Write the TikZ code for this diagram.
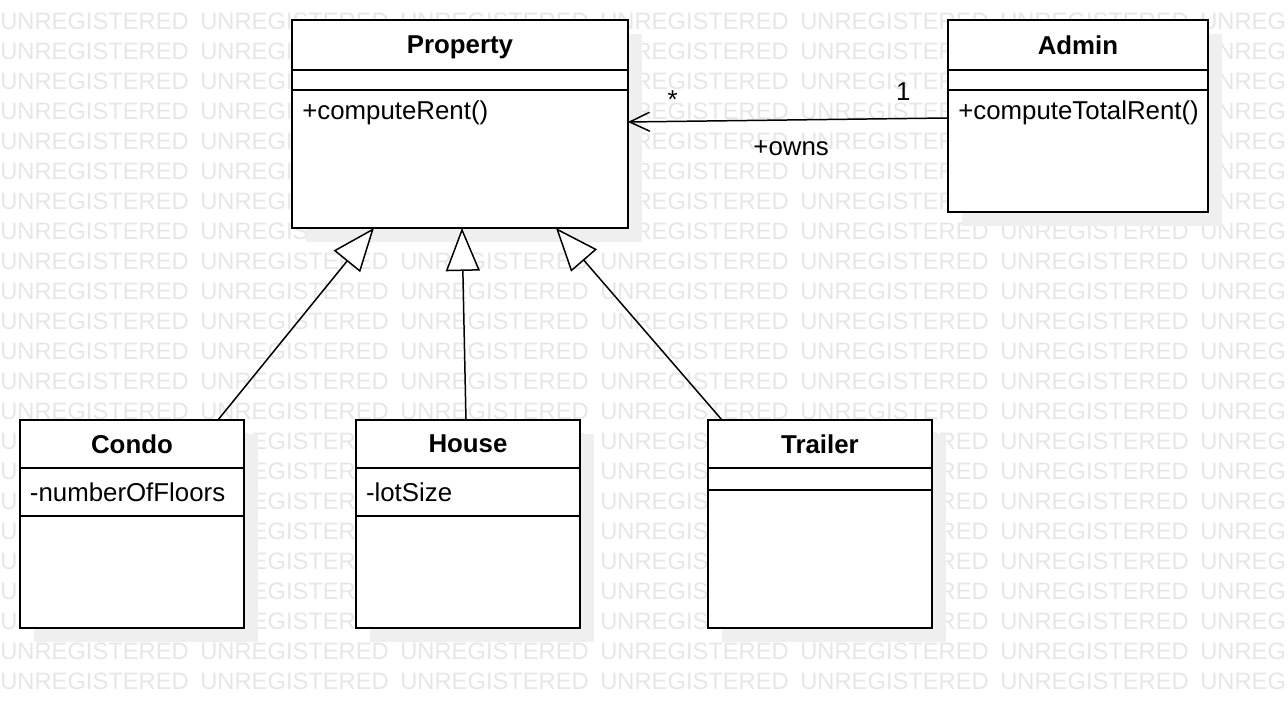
\documentclass[tikz,border=0pt]{standalone}
\usepackage{fontspec}
\setmainfont{Liberation Sans}
\usetikzlibrary{positioning,arrows.meta,shadows}
\definecolor{markgray}{HTML}{E6E6E6}
\definecolor{shadegray}{HTML}{EFEFEF}
\newcommand\classfont{\fontsize{14.7pt}{17pt}\selectfont}
\newcommand\markfont{\fontsize{13.5pt}{16pt}\selectfont}
\tikzset{
  box/.style={draw, line width=1.1pt, fill=white, inner sep=0pt, outer sep=0pt,
    general shadow={fill=shadegray, shadow xshift=0.28cm, shadow yshift=-0.28cm}},
  classname/.style={box, font=\classfont\bfseries, text depth=0pt},
  compart/.style={box, font=\classfont, align=left},
  member/.style={font=\classfont, inner sep=0pt},
  watermark/.style={font=\markfont, text=markgray, inner sep=0pt, anchor=west},
  extends/.style={line width=0.85pt, -{Triangle[open, fill=white, length=0.86cm, width=0.68cm]}},
  assoc/.style={line width=0.85pt, -{Straight Barb[length=0.4cm, width=0.38cm]}},
  mult/.style={font=\classfont, inner sep=0pt}
}
\begin{document}
\begin{tikzpicture}[x=0.02cm, y=-0.02cm]
\useasboundingbox (0,0) rectangle (1288,708);

% watermark
\foreach \row in {0,...,23}
  \foreach \col in {0,...,6}
    \node[watermark] (wm-\row-\col) at (\col*200, -8.3+\row*30) {UNREGISTERED};

% Property
\node[classname, minimum width=6.72cm, minimum height=1cm, anchor=north west] (propertyName) at (292,20) {Property};
\node[compart, minimum width=6.72cm, minimum height=0.4cm, below=0pt of propertyName] (propertyAttr) {};
\node[compart, minimum width=6.72cm, minimum height=2.76cm, below=0pt of propertyAttr] (propertyOps) {};
\node[member, anchor=west] (propertyOp) at ([xshift=0.2cm, yshift=-0.46cm]propertyOps.north west) {+computeRent()};

% Admin
\node[classname, minimum width=5.2cm, minimum height=1cm, anchor=north west] (adminName) at (948,20) {Admin};
\node[compart, minimum width=5.2cm, minimum height=0.4cm, below=0pt of adminName] (adminAttr) {};
\node[compart, minimum width=5.2cm, minimum height=2.44cm, below=0pt of adminAttr] (adminOps) {};
\node[member, anchor=west] (adminOp) at ([xshift=0.2cm, yshift=-0.46cm]adminOps.north west) {+computeTotalRent()};

% Condo
\node[classname, minimum width=4.48cm, minimum height=0.96cm, anchor=north west] (condoName) at (20,420) {Condo};
\node[compart, text width=4.08cm, inner xsep=0.2cm, minimum height=0.96cm, below=0pt of condoName] (condoAttr) {-numberOfFloors};
\node[compart, minimum width=4.48cm, minimum height=2.24cm, below=0pt of condoAttr] (condoOps) {};

% House
\node[classname, minimum width=4.48cm, minimum height=0.96cm, anchor=north west] (houseName) at (356,420) {House};
\node[compart, text width=4.08cm, inner xsep=0.2cm, minimum height=0.96cm, below=0pt of houseName] (houseAttr) {-lotSize};
\node[compart, minimum width=4.48cm, minimum height=2.24cm, below=0pt of houseAttr] (houseOps) {};

% Trailer
\node[classname, minimum width=4.48cm, minimum height=0.96cm, anchor=north west] (trailerName) at (708,420) {Trailer};
\node[compart, minimum width=4.48cm, minimum height=0.44cm, below=0pt of trailerName] (trailerAttr) {};
\node[compart, minimum width=4.48cm, minimum height=2.76cm, below=0pt of trailerAttr] (trailerOps) {};

% generalizations
\draw[extends] ([xshift=1.72cm]condoName.north) -- ([xshift=-1.72cm]propertyOps.south);
\draw[extends] ([xshift=-0.04cm]houseName.north) -- ([xshift=0.04cm]propertyOps.south);
\draw[extends] ([xshift=-1.96cm]trailerName.north) -- ([xshift=1.92cm]propertyOps.south);

% association
\draw[assoc] ([yshift=0.66cm]adminOps.west) --
  node[mult, pos=0.14, yshift=0.53cm] (ownsOne) {1}
  node[mult, pos=0.86, yshift=0.44cm] (ownsMany) {*}
  node[mult, pos=0.49, yshift=-0.56cm] (ownsRole) {+owns}
  ([yshift=0.74cm]propertyOps.east);
\end{tikzpicture}
\end{document}
